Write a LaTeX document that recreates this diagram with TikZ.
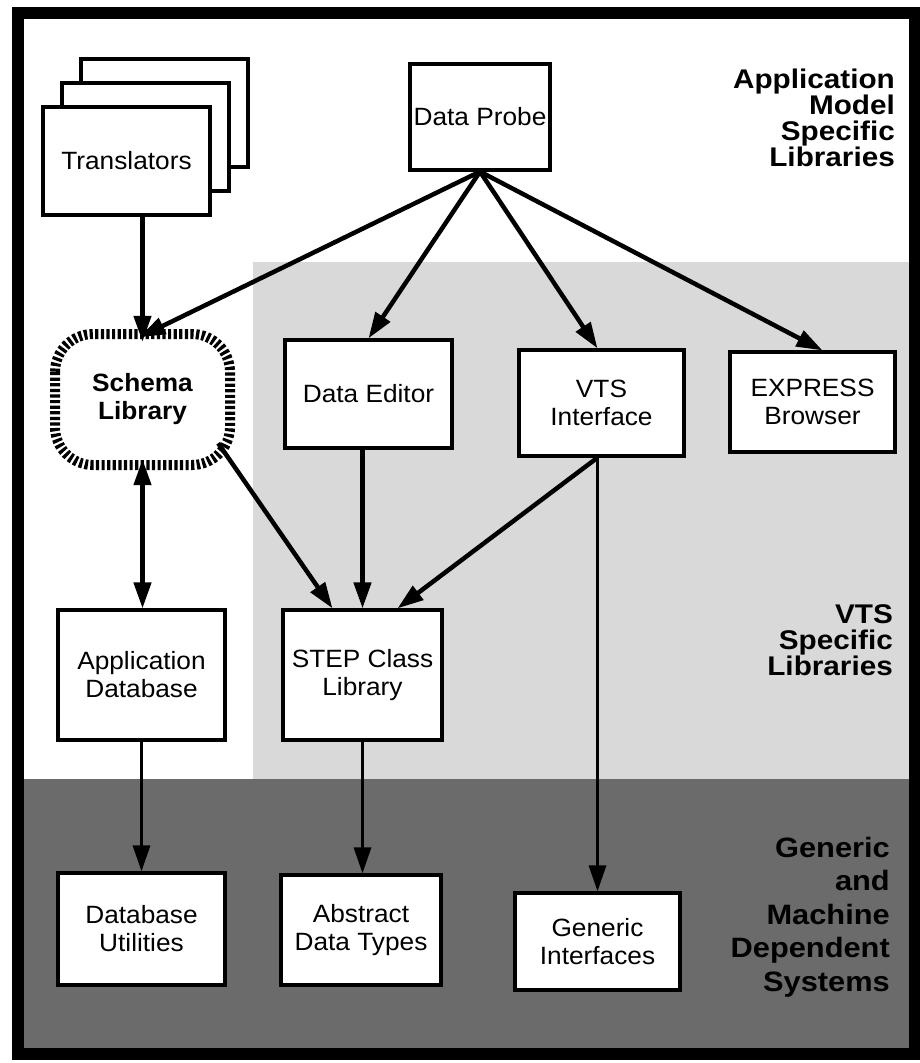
\documentclass[tikz,border=0pt]{standalone}
\usepackage{fontspec}
\setmainfont{Liberation Sans}
\usetikzlibrary{arrows.meta,calc}
\newcommand\ndfont{\fontsize{25}{28}\selectfont\addfontfeatures{FakeStretch=1.05}}
\newcommand\lbfont{\fontsize{27}{26}\selectfont\bfseries\addfontfeatures{FakeStretch=1.1}}
\newcommand\gnfont{\fontsize{28}{33.5}\selectfont\bfseries\addfontfeatures{FakeStretch=1.1}}
\begin{document}
\begin{tikzpicture}[x=1pt,y=-1pt,
  box/.style={draw=black,line width=3.2pt,fill=white,inner sep=0pt,align=center,font=\ndfont},
  lbl/.style={align=right,anchor=east,inner sep=0pt,font=\lbfont},
  arr/.style={line width=4.5pt,-{Triangle[length=26pt,width=17pt]}},
  thinarr/.style={line width=3.2pt,-{Triangle[length=26pt,width=17pt]}},
  dblarr/.style={line width=4.5pt,{Triangle[length=26pt,width=17pt]}-{Triangle[length=26pt,width=17pt]}},
  hatch/.style={draw=black,line width=10pt,dash pattern=on 3.2pt off 2.4pt,fill=white,rounded corners=38pt}
]
\useasboundingbox (0,0) rectangle (920,1063);
\fill[white] (0,0) rectangle (920,1063);
% regions
\fill[black!15] (253,262) rectangle (912,779);
\fill[black!58] (20,779) rectangle (912,1050);
% region labels
\node[lbl] (lapp) at (895,118) {Application\\Model\\Specific\\Libraries};
\node[lbl] (lvts) at (893,640) {VTS\\Specific\\Libraries};
\node[lbl,font=\gnfont] (lgen) at (890,917) {Generic\\and\\Machine\\Dependent\\Systems};
% boxes
\node[box,minimum width=140pt,minimum height=106pt] (probe) at (480,117) {Data Probe};
\node[box,minimum width=167pt,minimum height=108pt] (trans3) at (164.5,113) {};
\node[box,minimum width=167pt,minimum height=108pt] (trans2) at (145.5,137) {};
\node[box,minimum width=167pt,minimum height=108pt] (trans) at (126.5,161) {Translators};
\draw[hatch] (55,334) rectangle (230,465);
\node[inner sep=0pt,minimum width=175pt,minimum height=131pt,align=center,font=\ndfont\bfseries] (sch) at (142.5,399.5) {Schema\\Library};
\node[box,minimum width=167pt,minimum height=108pt] (ded) at (368.5,394) {Data Editor};
\node[box,minimum width=165pt,minimum height=106pt] (vts) at (601.5,403) {VTS\\Interface};
\node[box,minimum width=165pt,minimum height=100pt] (exp) at (812.5,402) {EXPRESS\\Browser};
\node[box,minimum width=159pt,minimum height=130pt] (step) at (362.5,675) {STEP Class\\Library};
\node[box,minimum width=167pt,minimum height=130pt] (adb) at (141.5,675) {Application\\Database};
\node[box,minimum width=167pt,minimum height=112pt] (dbu) at (141.5,929) {Database\\Utilities};
\node[box,minimum width=160pt,minimum height=110pt] (adt) at (361,930) {Abstract\\Data Types};
\node[box,minimum width=165pt,minimum height=97pt] (gi) at (597.5,941.5) {Generic\\Interfaces};
% connectors
\draw[arr,shorten >=-8pt] (trans.south -| sch.north) -- (sch.north);
\draw[arr,shorten >=-8pt] (probe.south) -- ([xshift=4pt]sch.north);
\draw[arr] (probe.south) -- (ded.north);
\draw[arr] (probe.south) -- ([xshift=-4pt]vts.north);
\draw[arr] (probe.south) -- ([xshift=10pt]exp.north);
\draw[arr] ([xshift=-12pt,yshift=22pt]sch.south east) -- ([xshift=-30pt]step.north);
\draw[arr] (ded.south -| step.north) -- (step.north);
\draw[arr] ([xshift=-4pt]vts.south) -- ([xshift=35pt]step.north);
\draw[thinarr] ([xshift=-4pt]vts.south) -- ([xshift=-4pt]vts.south |- gi.north);
\draw[dblarr,shorten <=-6pt] (sch.south) -- (sch.south |- adb.north);
\draw[thinarr] (adb.south) -- (dbu.north);
\draw[thinarr] (step.south) -- (step.south |- adt.north);
% frame
\draw[line width=12pt] (18,12.5) rectangle (915,1054);
\end{tikzpicture}
\end{document}
